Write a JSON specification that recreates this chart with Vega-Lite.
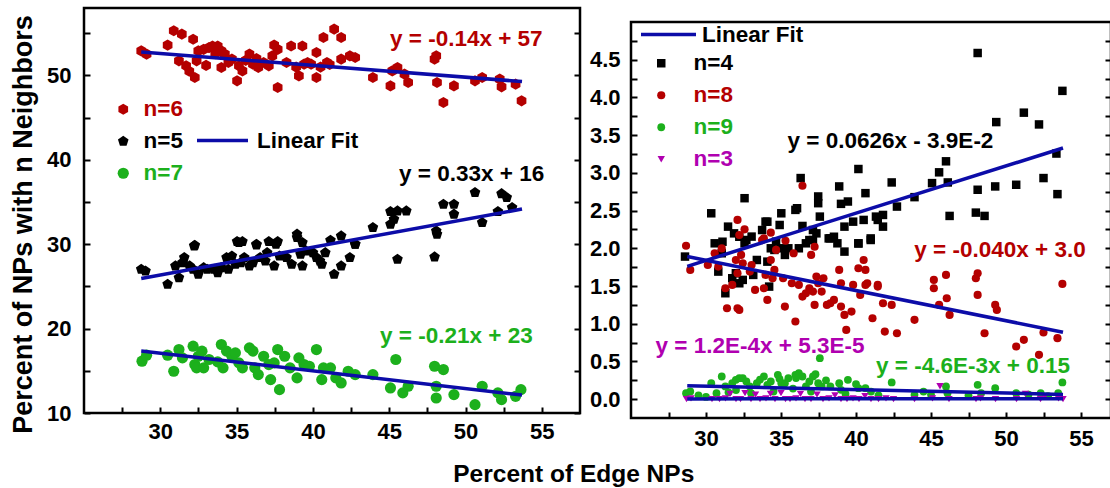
{
  "$schema": "https://vega.github.io/schema/vega-lite/v6.json",
  "background": "white",
  "padding": {"left": 8, "top": 5, "right": 0, "bottom": 0},
  "spacing": 5,
  "config": {
    "font": "Liberation Sans",
    "view": {"stroke": "#000", "strokeWidth": 2.5},
    "axis": {
      "grid": false, "domain": false, "offset": -6,
      "tickColor": "#000", "tickWidth": 2, "tickSize": 6, "ticks": true,
      "labelOverlap": false, "labelFlush": false, "labelBound": false,
      "labelFont": "Liberation Sans", "labelFontWeight": "bold", "labelFontSize": 22, "labelColor": "#000",
      "titleFont": "Liberation Sans", "titleFontWeight": "bold", "titleFontSize": 26, "titleColor": "#000"
    },
    "legend": {
      "labelFont": "Liberation Sans", "labelFontWeight": "bold", "labelFontSize": 22.5, "labelColor": "#000",
      "padding": 0, "rowPadding": 9, "title": null
    },
    "text": {"font": "Liberation Sans", "fontWeight": "bold", "fontSize": 22.5}
  },
  "title": {"text": "Percent of Edge NPs", "orient": "bottom", "anchor": "middle", "fontSize": 24.5, "fontWeight": "bold", "color": "#000", "offset": 12, "dx": 13},
  "resolve": {"scale": {"x": "independent", "y": "independent", "color": "independent", "shape": "independent", "size": "independent", "stroke": "independent"}},
  "datasets": {
    "left": [
      {"n":"n=6","x":28.75,"y":52.92},{"n":"n=6","x":29.1,"y":52.53},{"n":"n=6","x":30.48,"y":53.6},{"n":"n=6","x":30.88,"y":55.3},{"n":"n=6","x":31.41,"y":54.9},{"n":"n=6","x":31.22,"y":51.74},{"n":"n=6","x":31.69,"y":51.15},{"n":"n=6","x":32.15,"y":54.3},{"n":"n=6","x":32.26,"y":49.76},{"n":"n=6","x":32.38,"y":51.74},{"n":"n=6","x":32.49,"y":52.92},{"n":"n=6","x":32.84,"y":53.1},{"n":"n=6","x":33.19,"y":53.3},{"n":"n=6","x":33.42,"y":53.5},{"n":"n=6","x":33.76,"y":53.5},{"n":"n=6","x":34.0,"y":52.92},{"n":"n=6","x":34.23,"y":52.53},{"n":"n=6","x":34.0,"y":50.95},{"n":"n=6","x":34.46,"y":51.54},{"n":"n=6","x":34.69,"y":51.94},{"n":"n=6","x":35.03,"y":49.37},{"n":"n=6","x":35.15,"y":51.15},{"n":"n=6","x":35.38,"y":50.55},{"n":"n=6","x":35.84,"y":52.53},{"n":"n=6","x":36.07,"y":51.34},{"n":"n=6","x":36.42,"y":50.95},{"n":"n=6","x":36.77,"y":51.54},{"n":"n=6","x":37.11,"y":51.15},{"n":"n=6","x":37.34,"y":52.33},{"n":"n=6","x":37.46,"y":53.6},{"n":"n=6","x":37.69,"y":53.1},{"n":"n=6","x":37.69,"y":48.58},{"n":"n=6","x":38.27,"y":51.54},{"n":"n=6","x":38.57,"y":53.5},{"n":"n=6","x":39.08,"y":49.96},{"n":"n=6","x":39.31,"y":53.5},{"n":"n=6","x":39.42,"y":51.34},{"n":"n=6","x":39.65,"y":51.54},{"n":"n=6","x":39.88,"y":51.34},{"n":"n=6","x":40.23,"y":52.73},{"n":"n=6","x":40.23,"y":49.76},{"n":"n=6","x":40.69,"y":54.5},{"n":"n=6","x":40.92,"y":51.54},{"n":"n=6","x":41.39,"y":55.5},{"n":"n=6","x":41.85,"y":54.5},{"n":"n=6","x":41.85,"y":51.94},{"n":"n=6","x":42.42,"y":52.33},{"n":"n=6","x":42.77,"y":52.13},{"n":"n=6","x":43.93,"y":49.76},{"n":"n=6","x":45.08,"y":48.77},{"n":"n=6","x":45.2,"y":50.55},{"n":"n=6","x":45.54,"y":50.95},{"n":"n=6","x":46.0,"y":50.16},{"n":"n=6","x":46.24,"y":49.17},{"n":"n=6","x":47.97,"y":51.94},{"n":"n=6","x":48.08,"y":52.33},{"n":"n=6","x":48.13,"y":49.17},{"n":"n=6","x":48.55,"y":46.8},{"n":"n=6","x":49.24,"y":48.77},{"n":"n=6","x":50.62,"y":49.37},{"n":"n=6","x":51.09,"y":49.76},{"n":"n=6","x":52.24,"y":49.57},{"n":"n=6","x":52.36,"y":48.66},{"n":"n=6","x":53.28,"y":48.97},{"n":"n=6","x":53.67,"y":47.0},{"n":"n=6","x":31.9,"y":50.5},{"n":"n=6","x":33.0,"y":51.2},{"n":"n=6","x":35.6,"y":51.8},{"n":"n=6","x":36.3,"y":52.0},{"n":"n=6","x":38.9,"y":51.0},{"n":"n=6","x":40.5,"y":51.0},{"n":"n=6","x":41.1,"y":51.3},{"n":"n=6","x":33.6,"y":52.6},
      {"n":"n=5","x":32.26,"y":29.88},{"n":"n=5","x":35.03,"y":30.32},{"n":"n=5","x":35.38,"y":30.32},{"n":"n=5","x":36.3,"y":29.92},{"n":"n=5","x":37.11,"y":30.32},{"n":"n=5","x":37.69,"y":30.32},{"n":"n=5","x":38.96,"y":30.79},{"n":"n=5","x":39.31,"y":30.2},{"n":"n=5","x":41.15,"y":30.47},{"n":"n=5","x":41.85,"y":30.99},{"n":"n=5","x":42.77,"y":30.0},{"n":"n=5","x":43.93,"y":31.98},{"n":"n=5","x":45.08,"y":32.37},{"n":"n=5","x":45.08,"y":33.87},{"n":"n=5","x":45.31,"y":32.96},{"n":"n=5","x":45.54,"y":33.95},{"n":"n=5","x":46.12,"y":33.95},{"n":"n=5","x":48.08,"y":31.58},{"n":"n=5","x":48.13,"y":31.19},{"n":"n=5","x":48.55,"y":34.74},{"n":"n=5","x":49.24,"y":34.74},{"n":"n=5","x":49.24,"y":33.56},{"n":"n=5","x":50.62,"y":36.13},{"n":"n=5","x":51.09,"y":32.57},{"n":"n=5","x":52.12,"y":33.87},{"n":"n=5","x":52.36,"y":36.0},{"n":"n=5","x":52.7,"y":35.53},{"n":"n=5","x":53.05,"y":34.35},
      {"n":"n=5","x":28.75,"y":27.03},{"n":"n=5","x":29.03,"y":26.83},{"n":"n=5","x":30.48,"y":25.25},{"n":"n=5","x":30.99,"y":27.43},{"n":"n=5","x":31.22,"y":26.04},{"n":"n=5","x":31.45,"y":27.82},{"n":"n=5","x":31.57,"y":28.42},{"n":"n=5","x":31.92,"y":27.43},{"n":"n=5","x":32.15,"y":27.03},{"n":"n=5","x":32.22,"y":29.8},{"n":"n=5","x":32.49,"y":26.44},{"n":"n=5","x":32.84,"y":27.23},{"n":"n=5","x":33.07,"y":27.03},{"n":"n=5","x":33.53,"y":27.03},{"n":"n=5","x":33.76,"y":26.63},{"n":"n=5","x":34.0,"y":27.23},{"n":"n=5","x":34.34,"y":28.42},{"n":"n=5","x":34.46,"y":27.03},{"n":"n=5","x":34.69,"y":28.6},{"n":"n=5","x":34.92,"y":27.62},{"n":"n=5","x":35.15,"y":30.2},{"n":"n=5","x":35.27,"y":27.82},{"n":"n=5","x":35.5,"y":28.42},{"n":"n=5","x":35.84,"y":27.43},{"n":"n=5","x":36.07,"y":27.82},{"n":"n=5","x":36.3,"y":30.0},{"n":"n=5","x":36.54,"y":28.42},{"n":"n=5","x":36.88,"y":28.02},{"n":"n=5","x":37.0,"y":29.0},{"n":"n=5","x":37.46,"y":27.43},{"n":"n=5","x":37.58,"y":30.0},{"n":"n=5","x":37.81,"y":28.6},{"n":"n=5","x":38.27,"y":28.42},{"n":"n=5","x":38.61,"y":27.62},{"n":"n=5","x":38.96,"y":31.19},{"n":"n=5","x":39.19,"y":28.81},{"n":"n=5","x":39.31,"y":27.43},{"n":"n=5","x":39.54,"y":29.21},{"n":"n=5","x":40.0,"y":29.0},{"n":"n=5","x":40.23,"y":28.42},{"n":"n=5","x":40.46,"y":28.02},{"n":"n=5","x":40.58,"y":27.62},{"n":"n=5","x":40.81,"y":29.0},{"n":"n=5","x":41.39,"y":26.44},{"n":"n=5","x":41.85,"y":27.43},{"n":"n=5","x":42.42,"y":28.42},{"n":"n=5","x":42.77,"y":30.0},{"n":"n=5","x":45.54,"y":28.22},{"n":"n=5","x":47.97,"y":28.5},
      {"n":"n=7","x":28.8,"y":16.14},{"n":"n=7","x":29.1,"y":16.85},{"n":"n=7","x":30.48,"y":16.85},{"n":"n=7","x":30.88,"y":14.95},{"n":"n=7","x":31.22,"y":17.52},{"n":"n=7","x":31.45,"y":16.53},{"n":"n=7","x":32.15,"y":17.92},{"n":"n=7","x":32.26,"y":15.74},{"n":"n=7","x":32.38,"y":15.35},{"n":"n=7","x":32.49,"y":16.73},{"n":"n=7","x":32.73,"y":17.33},{"n":"n=7","x":32.84,"y":15.35},{"n":"n=7","x":33.19,"y":16.34},{"n":"n=7","x":33.76,"y":16.06},{"n":"n=7","x":34.0,"y":18.12},{"n":"n=7","x":34.11,"y":15.35},{"n":"n=7","x":34.34,"y":17.33},{"n":"n=7","x":34.69,"y":16.73},{"n":"n=7","x":34.92,"y":17.13},{"n":"n=7","x":35.15,"y":15.94},{"n":"n=7","x":35.38,"y":15.35},{"n":"n=7","x":35.84,"y":17.72},{"n":"n=7","x":36.07,"y":17.33},{"n":"n=7","x":36.19,"y":15.35},{"n":"n=7","x":36.42,"y":14.55},{"n":"n=7","x":36.77,"y":16.73},{"n":"n=7","x":37.11,"y":15.74},{"n":"n=7","x":37.23,"y":13.96},{"n":"n=7","x":37.46,"y":15.94},{"n":"n=7","x":37.69,"y":17.52},{"n":"n=7","x":37.81,"y":12.77},{"n":"n=7","x":38.15,"y":16.73},{"n":"n=7","x":38.5,"y":15.35},{"n":"n=7","x":38.96,"y":14.16},{"n":"n=7","x":39.08,"y":16.53},{"n":"n=7","x":39.42,"y":15.74},{"n":"n=7","x":39.77,"y":15.54},{"n":"n=7","x":40.23,"y":17.52},{"n":"n=7","x":40.58,"y":13.96},{"n":"n=7","x":40.69,"y":15.35},{"n":"n=7","x":41.15,"y":15.35},{"n":"n=7","x":41.5,"y":14.16},{"n":"n=7","x":41.85,"y":13.56},{"n":"n=7","x":42.31,"y":14.95},{"n":"n=7","x":42.77,"y":14.55},{"n":"n=7","x":43.93,"y":14.55},{"n":"n=7","x":45.08,"y":12.97},{"n":"n=7","x":45.43,"y":16.34},{"n":"n=7","x":45.89,"y":12.38},{"n":"n=7","x":46.24,"y":13.17},{"n":"n=7","x":47.97,"y":15.54},{"n":"n=7","x":48.08,"y":13.17},{"n":"n=7","x":48.08,"y":11.78},{"n":"n=7","x":48.55,"y":15.15},{"n":"n=7","x":49.24,"y":12.18},{"n":"n=7","x":50.62,"y":10.99},{"n":"n=7","x":51.09,"y":13.17},{"n":"n=7","x":52.12,"y":12.38},{"n":"n=7","x":52.36,"y":11.58},{"n":"n=7","x":53.28,"y":11.98},{"n":"n=7","x":53.63,"y":12.77}
    ],
    "leftFit": [
      {"n":"n=6","x":28.75,"y":52.775},{"n":"n=6","x":53.7,"y":49.282},
      {"n":"n=5","x":28.75,"y":25.94},{"n":"n=5","x":53.7,"y":34.17},
      {"n":"n=7","x":28.75,"y":17.36},{"n":"n=7","x":53.7,"y":12.12}
    ],
    "right": [
      {"n":"n=4","x":30.35,"y":2.464},{"n":"n=4","x":31.1,"y":2.087},{"n":"n=4","x":31.47,"y":2.287},{"n":"n=4","x":31.87,"y":2.198},{"n":"n=4","x":32.22,"y":2.153},{"n":"n=4","x":32.57,"y":2.664},{"n":"n=4","x":33.74,"y":2.242},{"n":"n=4","x":33.97,"y":2.353},{"n":"n=4","x":34.09,"y":2.353},{"n":"n=4","x":34.91,"y":2.309},{"n":"n=4","x":35.02,"y":2.464},{"n":"n=4","x":35.96,"y":2.509},{"n":"n=4","x":36.07,"y":2.531},{"n":"n=4","x":36.31,"y":2.931},{"n":"n=4","x":36.43,"y":2.296},{"n":"n=4","x":36.89,"y":2.109},{"n":"n=4","x":37.13,"y":2.242},{"n":"n=4","x":37.36,"y":2.198},{"n":"n=4","x":37.48,"y":2.687},{"n":"n=4","x":37.48,"y":2.598},{"n":"n=4","x":37.59,"y":2.42},{"n":"n=4","x":38.18,"y":2.131},{"n":"n=4","x":38.53,"y":2.153},{"n":"n=4","x":38.88,"y":2.82},{"n":"n=4","x":39.0,"y":2.589},{"n":"n=4","x":39.23,"y":2.287},{"n":"n=4","x":39.46,"y":2.62},{"n":"n=4","x":39.81,"y":2.353},{"n":"n=4","x":40.16,"y":2.064},{"n":"n=4","x":40.16,"y":3.051},{"n":"n=4","x":40.51,"y":2.376},{"n":"n=4","x":40.63,"y":2.731},{"n":"n=4","x":40.98,"y":2.131},{"n":"n=4","x":41.33,"y":2.42},{"n":"n=4","x":41.45,"y":2.376},{"n":"n=4","x":41.8,"y":2.287},{"n":"n=4","x":41.8,"y":2.442},{"n":"n=4","x":42.38,"y":2.873},{"n":"n=4","x":42.73,"y":2.553},{"n":"n=4","x":43.9,"y":2.678},{"n":"n=4","x":45.07,"y":2.864},{"n":"n=4","x":45.54,"y":3.007},{"n":"n=4","x":46.0,"y":3.153},{"n":"n=4","x":46.12,"y":2.873},{"n":"n=4","x":46.24,"y":2.429},{"n":"n=4","x":47.99,"y":2.473},{"n":"n=4","x":48.11,"y":2.776},{"n":"n=4","x":48.11,"y":4.589},{"n":"n=4","x":48.57,"y":2.429},{"n":"n=4","x":49.28,"y":2.82},{"n":"n=4","x":49.35,"y":3.673},{"n":"n=4","x":50.68,"y":2.842},{"n":"n=4","x":51.19,"y":3.798},{"n":"n=4","x":52.2,"y":3.642},{"n":"n=4","x":52.5,"y":2.931},{"n":"n=4","x":53.36,"y":3.256},{"n":"n=4","x":53.43,"y":2.718},{"n":"n=4","x":53.76,"y":4.087},
      {"n":"n=4","x":28.6,"y":1.89},{"n":"n=4","x":30.58,"y":2.066},{"n":"n=4","x":30.82,"y":1.691},{"n":"n=4","x":31.05,"y":1.934},{"n":"n=4","x":31.29,"y":1.404},{"n":"n=4","x":31.75,"y":1.603},{"n":"n=4","x":31.99,"y":1.669},{"n":"n=4","x":32.22,"y":1.536},{"n":"n=4","x":32.45,"y":1.581},{"n":"n=4","x":32.57,"y":2.066},{"n":"n=4","x":32.69,"y":2.11},{"n":"n=4","x":33.04,"y":2.155},{"n":"n=4","x":33.15,"y":1.647},{"n":"n=4","x":33.39,"y":1.845},{"n":"n=4","x":34.09,"y":1.823},{"n":"n=4","x":34.21,"y":1.492},{"n":"n=4","x":34.32,"y":2.0},{"n":"n=4","x":34.56,"y":1.978},{"n":"n=4","x":34.67,"y":2.088},{"n":"n=4","x":35.02,"y":2.0},{"n":"n=4","x":35.26,"y":1.912},{"n":"n=4","x":35.49,"y":2.0},{"n":"n=4","x":36.19,"y":2.0},{"n":"n=4","x":36.66,"y":2.066},{"n":"n=4","x":37.13,"y":2.11},{"n":"n=4","x":38.29,"y":2.132},{"n":"n=4","x":38.76,"y":2.066},{"n":"n=4","x":39.23,"y":1.956},{"n":"n=4","x":40.16,"y":2.066},{"n":"n=4","x":40.98,"y":2.11},
      {"n":"n=8","x":28.67,"y":2.033},{"n":"n=8","x":31.05,"y":1.998},{"n":"n=8","x":32.1,"y":2.376},{"n":"n=8","x":32.22,"y":2.176},{"n":"n=8","x":32.57,"y":2.251},{"n":"n=8","x":33.74,"y":2.109},{"n":"n=8","x":33.86,"y":2.131},{"n":"n=8","x":34.32,"y":2.207},{"n":"n=8","x":35.3,"y":2.1},{"n":"n=8","x":36.43,"y":2.829},{"n":"n=8","x":37.24,"y":2.02},
      {"n":"n=8","x":28.95,"y":1.713},{"n":"n=8","x":30.12,"y":1.779},{"n":"n=8","x":30.58,"y":1.934},{"n":"n=8","x":30.82,"y":1.757},{"n":"n=8","x":31.29,"y":1.47},{"n":"n=8","x":31.4,"y":1.205},{"n":"n=8","x":31.75,"y":1.514},{"n":"n=8","x":31.99,"y":1.845},{"n":"n=8","x":32.1,"y":1.669},{"n":"n=8","x":32.1,"y":1.205},{"n":"n=8","x":32.22,"y":1.183},{"n":"n=8","x":32.34,"y":1.912},{"n":"n=8","x":32.45,"y":1.801},{"n":"n=8","x":32.92,"y":1.691},{"n":"n=8","x":33.04,"y":1.779},{"n":"n=8","x":33.27,"y":1.448},{"n":"n=8","x":33.86,"y":1.47},{"n":"n=8","x":33.97,"y":1.647},{"n":"n=8","x":34.09,"y":1.316},{"n":"n=8","x":34.32,"y":1.845},{"n":"n=8","x":34.44,"y":1.603},{"n":"n=8","x":34.56,"y":1.713},{"n":"n=8","x":34.67,"y":1.978},{"n":"n=8","x":35.14,"y":1.603},{"n":"n=8","x":35.26,"y":1.227},{"n":"n=8","x":35.72,"y":1.536},{"n":"n=8","x":35.84,"y":1.934},{"n":"n=8","x":35.96,"y":1.029},{"n":"n=8","x":36.19,"y":1.514},{"n":"n=8","x":36.43,"y":1.36},{"n":"n=8","x":36.66,"y":1.404},{"n":"n=8","x":36.89,"y":1.47},{"n":"n=8","x":37.01,"y":1.912},{"n":"n=8","x":37.13,"y":1.426},{"n":"n=8","x":37.24,"y":1.249},{"n":"n=8","x":37.36,"y":1.625},{"n":"n=8","x":37.48,"y":1.536},{"n":"n=8","x":37.71,"y":1.426},{"n":"n=8","x":37.83,"y":1.603},{"n":"n=8","x":38.06,"y":1.249},{"n":"n=8","x":38.29,"y":1.272},{"n":"n=8","x":38.53,"y":1.316},{"n":"n=8","x":38.88,"y":1.713},{"n":"n=8","x":39.0,"y":1.536},{"n":"n=8","x":39.0,"y":1.227},{"n":"n=8","x":39.23,"y":1.117},{"n":"n=8","x":39.35,"y":0.918},{"n":"n=8","x":39.7,"y":1.161},{"n":"n=8","x":39.81,"y":1.514},{"n":"n=8","x":40.16,"y":1.735},{"n":"n=8","x":40.28,"y":1.382},{"n":"n=8","x":40.51,"y":1.845},{"n":"n=8","x":40.63,"y":1.713},{"n":"n=8","x":40.63,"y":1.514},{"n":"n=8","x":40.75,"y":1.536},{"n":"n=8","x":41.1,"y":1.073},{"n":"n=8","x":41.45,"y":1.514},{"n":"n=8","x":41.45,"y":1.492},{"n":"n=8","x":41.8,"y":1.272},{"n":"n=8","x":41.92,"y":0.896},{"n":"n=8","x":42.38,"y":1.249},{"n":"n=8","x":42.73,"y":0.874},{"n":"n=8","x":43.9,"y":1.051},{"n":"n=8","x":45.19,"y":1.47},{"n":"n=8","x":45.19,"y":1.581},{"n":"n=8","x":45.54,"y":1.249},{"n":"n=8","x":46.0,"y":1.647},{"n":"n=8","x":46.05,"y":1.338},{"n":"n=8","x":46.24,"y":1.117},{"n":"n=8","x":47.99,"y":1.603},{"n":"n=8","x":48.11,"y":1.669},{"n":"n=8","x":48.11,"y":1.382},{"n":"n=8","x":48.57,"y":0.874},{"n":"n=8","x":49.28,"y":1.249},{"n":"n=8","x":49.39,"y":1.183},{"n":"n=8","x":50.68,"y":0.698},{"n":"n=8","x":51.19,"y":0.786},{"n":"n=8","x":52.2,"y":0.587},{"n":"n=8","x":52.5,"y":0.883},{"n":"n=8","x":53.43,"y":0.808},{"n":"n=8","x":53.76,"y":1.528},
      {"n":"n=9","x":28.67,"y":0.079},{"n":"n=9","x":28.95,"y":0.102},{"n":"n=9","x":30.35,"y":0.212},{"n":"n=9","x":30.7,"y":0.079},{"n":"n=9","x":31.05,"y":0.3},{"n":"n=9","x":31.29,"y":0.168},{"n":"n=9","x":31.75,"y":0.212},{"n":"n=9","x":31.99,"y":0.256},{"n":"n=9","x":32.22,"y":0.278},{"n":"n=9","x":32.45,"y":0.278},{"n":"n=9","x":32.69,"y":0.234},{"n":"n=9","x":32.92,"y":0.168},{"n":"n=9","x":33.39,"y":0.212},{"n":"n=9","x":33.86,"y":0.3},{"n":"n=9","x":34.09,"y":0.19},{"n":"n=9","x":34.32,"y":0.234},{"n":"n=9","x":34.79,"y":0.322},{"n":"n=9","x":35.02,"y":0.212},{"n":"n=9","x":35.26,"y":0.212},{"n":"n=9","x":35.49,"y":0.278},{"n":"n=9","x":35.96,"y":0.322},{"n":"n=9","x":36.19,"y":0.344},{"n":"n=9","x":36.43,"y":0.3},{"n":"n=9","x":36.66,"y":0.168},{"n":"n=9","x":36.89,"y":0.234},{"n":"n=9","x":37.13,"y":0.3},{"n":"n=9","x":37.48,"y":0.212},{"n":"n=9","x":37.59,"y":0.543},{"n":"n=9","x":37.71,"y":0.168},{"n":"n=9","x":38.29,"y":0.168},{"n":"n=9","x":38.88,"y":0.212},{"n":"n=9","x":39.0,"y":0.124},{"n":"n=9","x":39.46,"y":0.256},{"n":"n=9","x":40.16,"y":0.146},{"n":"n=9","x":40.63,"y":0.146},{"n":"n=9","x":42.38,"y":0.221},{"n":"n=9","x":43.9,"y":0.057},{"n":"n=9","x":46.0,"y":0.168},{"n":"n=9","x":48.11,"y":0.19},{"n":"n=9","x":48.34,"y":0.079},{"n":"n=9","x":49.28,"y":0.146},{"n":"n=9","x":50.68,"y":0.079},{"n":"n=9","x":52.31,"y":0.079},{"n":"n=9","x":53.48,"y":0.079},{"n":"n=9","x":53.76,"y":0.221},{"n":"n=9","x":46.1,"y":0.079},{"n":"n=9","x":29.5,"y":0.05},{"n":"n=9","x":30.0,"y":0.03},{"n":"n=9","x":31.5,"y":0.09},{"n":"n=9","x":32.0,"y":0.12},{"n":"n=9","x":33.0,"y":0.08},{"n":"n=9","x":33.6,"y":0.26},{"n":"n=9","x":34.5,"y":0.1},{"n":"n=9","x":35.8,"y":0.14},{"n":"n=9","x":36.0,"y":0.28},{"n":"n=9","x":37.0,"y":0.1},{"n":"n=9","x":38.0,"y":0.25},{"n":"n=9","x":39.3,"y":0.07},{"n":"n=9","x":40.0,"y":0.2},{"n":"n=9","x":41.0,"y":0.1},{"n":"n=9","x":41.5,"y":0.05},{"n":"n=9","x":44.5,"y":0.1},{"n":"n=9","x":45.0,"y":0.06},{"n":"n=9","x":47.5,"y":0.05},{"n":"n=9","x":51.5,"y":0.06},{"n":"n=9","x":52.8,"y":0.04},{"n":"n=9","x":37.3,"y":0.33},{"n":"n=9","x":34.9,"y":0.27},
      {"n":"n=3","x":28.7,"y":0.0},{"n":"n=3","x":29.0,"y":0.01},{"n":"n=3","x":30.4,"y":0.0},{"n":"n=3","x":30.9,"y":0.0},{"n":"n=3","x":31.3,"y":0.01},{"n":"n=3","x":31.6,"y":0.07},{"n":"n=3","x":32.0,"y":0.0},{"n":"n=3","x":32.3,"y":0.0},{"n":"n=3","x":32.6,"y":0.08},{"n":"n=3","x":33.0,"y":0.0},{"n":"n=3","x":33.3,"y":0.06},{"n":"n=3","x":33.6,"y":0.0},{"n":"n=3","x":34.0,"y":0.01},{"n":"n=3","x":34.3,"y":0.07},{"n":"n=3","x":34.6,"y":0.0},{"n":"n=3","x":35.0,"y":0.08},{"n":"n=3","x":35.3,"y":0.0},{"n":"n=3","x":35.6,"y":0.0},{"n":"n=3","x":36.0,"y":0.01},{"n":"n=3","x":36.3,"y":0.07},{"n":"n=3","x":36.6,"y":0.0},{"n":"n=3","x":37.0,"y":0.0},{"n":"n=3","x":37.4,"y":0.06},{"n":"n=3","x":37.8,"y":0.0},{"n":"n=3","x":38.2,"y":0.01},{"n":"n=3","x":38.6,"y":0.05},{"n":"n=3","x":39.0,"y":0.0},{"n":"n=3","x":39.4,"y":0.0},{"n":"n=3","x":39.8,"y":0.01},{"n":"n=3","x":40.2,"y":0.0},{"n":"n=3","x":40.6,"y":0.04},{"n":"n=3","x":41.0,"y":0.0},{"n":"n=3","x":41.5,"y":0.0},{"n":"n=3","x":42.0,"y":0.01},{"n":"n=3","x":42.5,"y":0.0},{"n":"n=3","x":43.9,"y":0.0},{"n":"n=3","x":45.1,"y":0.01},{"n":"n=3","x":45.6,"y":0.17},{"n":"n=3","x":46.2,"y":0.0},{"n":"n=3","x":48.0,"y":0.0},{"n":"n=3","x":48.3,"y":0.01},{"n":"n=3","x":49.3,"y":0.0},{"n":"n=3","x":50.7,"y":0.0},{"n":"n=3","x":51.3,"y":0.07},{"n":"n=3","x":52.3,"y":0.0},{"n":"n=3","x":52.6,"y":0.04},{"n":"n=3","x":53.5,"y":0.01},{"n":"n=3","x":53.8,"y":0.0}
    ],
    "rightFit": [
      {"n":"n=4","x":28.75,"y":1.761},{"n":"n=4","x":53.8,"y":3.329},
      {"n":"n=8","x":28.75,"y":1.89},{"n":"n=8","x":53.8,"y":0.888},
      {"n":"n=9","x":28.75,"y":0.178},{"n":"n=9","x":53.8,"y":0.063},
      {"n":"n=3","x":28.75,"y":0.0035},{"n":"n=3","x":53.8,"y":0.0065}
    ]
  },
  "hconcat": [
    {
      "width": 496,
      "height": 405,
      "resolve": {"axis": {"y": "independent"}},
      "layer": [
        {
          "data": {"name": "left"},
          "mark": {"type": "point", "filled": true, "opacity": 1},
          "encoding": {
            "x": {"field": "x", "type": "quantitative",
              "scale": {"domain": [25, 57.5], "nice": false, "zero": false},
              "axis": {"title": null, "values": [27.5,30,32.5,35,37.5,40,42.5,45,47.5,50,52.5,55],
                "labelExpr": "datum.value % 5 === 0 ? datum.label : ''", "labelPadding": 8}},
            "y": {"field": "y", "type": "quantitative",
              "scale": {"domain": [10, 58], "nice": false, "zero": false},
              "axis": {"title": "Percent of NPs with n Neighbors", "values": [10,15,20,25,30,35,40,45,50,55],
                "labelExpr": "datum.value % 10 === 0 ? datum.label : ''",
                "labelPadding": 13, "titlePadding": 9, "titleFontSize": 27, "titleY": 216}},
            "color": {"field": "n", "type": "nominal",
              "scale": {"domain": ["n=6","n=5","n=7"], "range": ["#b40000","#000000","#1cb01c"]},
              "legend": {"orient": "none", "legendX": 28, "legendY": 90, "symbolSize": 121, "labelOffset": 9,
                "encoding": {"labels": {"fill": {"condition": [{"test": "datum.value === 'n=6'", "value": "#b40000"}, {"test": "datum.value === 'n=7'", "value": "#1cb01c"}], "value": "#000000"}}}}},
            "shape": {"field": "n", "type": "nominal",
              "scale": {"domain": ["n=6","n=5","n=7"], "range": ["M0,-1L0.866,-0.5L0.866,0.5L0,1L-0.866,0.5L-0.866,-0.5Z","M0,-1L0.951,-0.309L0.588,0.809L-0.588,0.809L-0.951,-0.309Z","circle"]},
              "legend": {"orient": "none", "legendX": 28, "legendY": 90, "symbolSize": 121, "labelOffset": 9,
                "encoding": {"labels": {"fill": {"condition": [{"test": "datum.value === 'n=6'", "value": "#b40000"}, {"test": "datum.value === 'n=7'", "value": "#1cb01c"}], "value": "#000000"}}}}},
            "size": {"field": "n", "type": "nominal", "scale": {"domain": ["n=6","n=5","n=7"], "range": [125, 125, 100]}, "legend": null}
          }
        },
        {
          "data": {"name": "leftFit"},
          "mark": {"type": "line", "strokeWidth": 3.5},
          "encoding": {
            "x": {"field": "x", "type": "quantitative"},
            "y": {"field": "y", "type": "quantitative",
              "axis": {"orient": "right", "title": null, "labels": false, "values": [10,15,20,25,30,35,40,45,50,55]}},
            "detail": {"field": "n"},
            "stroke": {"datum": "Linear Fit", "type": "nominal", "scale": {"range": ["#0c0ca8"]},
              "legend": {"orient": "none", "legendX": 111, "legendY": 105, "symbolType": "stroke", "symbolSize": 2601, "symbolStrokeWidth": 3.5, "labelOffset": 7}}
          }
        },
        {"data": {"values": [{}]}, "mark": {"type": "text", "text": "y = -0.14x + 57", "color": "#b40000"},
         "encoding": {"x": {"datum": 50.05}, "y": {"datum": 54.3, "axis": null}}},
        {"data": {"values": [{}]}, "mark": {"type": "text", "text": "y = 0.33x + 16", "color": "#000000"},
         "encoding": {"x": {"datum": 50.4}, "y": {"datum": 38.3, "axis": null}}},
        {"data": {"values": [{}]}, "mark": {"type": "text", "text": "y = -0.21x + 23", "color": "#1cb01c"},
         "encoding": {"x": {"datum": 49.4}, "y": {"datum": 19.1, "axis": null}}}
      ]
    },
    {
      "spacing": 11,
      "vconcat": [
        {"width": 480, "height": 1, "data": {"values": []}, "mark": "point", "view": {"stroke": null}},
        {
          "width": 480,
          "height": 396,
          "resolve": {"axis": {"y": "independent"}},
          "layer": [
            {
              "data": {"name": "right"},
              "mark": {"type": "point", "filled": true, "opacity": 1},
              "encoding": {
                "x": {"field": "x", "type": "quantitative",
                  "scale": {"domain": [25, 57], "nice": false, "zero": false},
                  "axis": {"title": null, "values": [27.5,30,32.5,35,37.5,40,42.5,45,47.5,50,52.5,55],
                    "labelExpr": "datum.value % 5 === 0 ? datum.label : ''", "labelPadding": 10.5}},
                "y": {"field": "y", "type": "quantitative",
                  "scale": {"domain": [-0.25, 5.0], "nice": false, "zero": false},
                  "axis": {"title": null, "values": [0,0.25,0.5,0.75,1,1.25,1.5,1.75,2,2.25,2.5,2.75,3,3.25,3.5,3.75,4,4.25,4.5,4.75],
                    "labelExpr": "abs(datum.value * 2 - round(datum.value * 2)) < 0.001 ? format(datum.value, '.1f') : ''",
                    "labelPadding": 11}},
                "color": {"field": "n", "type": "nominal",
                  "scale": {"domain": ["n=4","n=8","n=9","n=3"], "range": ["#000000","#b40000","#1cb01c","#b000b0"]},
                  "legend": {"orient": "none", "legendX": 19, "legendY": 44, "symbolSize": 70, "labelOffset": 21,
                    "encoding": {"labels": {"fill": {"condition": [{"test": "datum.value === 'n=8'", "value": "#b40000"}, {"test": "datum.value === 'n=9'", "value": "#1cb01c"}, {"test": "datum.value === 'n=3'", "value": "#b000b0"}], "value": "#000000"}}}}},
                "shape": {"field": "n", "type": "nominal",
                  "scale": {"domain": ["n=4","n=8","n=9","n=3"], "range": ["square","circle","circle","triangle-down"]},
                  "legend": {"orient": "none", "legendX": 19, "legendY": 44, "symbolSize": 70, "labelOffset": 21,
                    "encoding": {"labels": {"fill": {"condition": [{"test": "datum.value === 'n=8'", "value": "#b40000"}, {"test": "datum.value === 'n=9'", "value": "#1cb01c"}, {"test": "datum.value === 'n=3'", "value": "#b000b0"}], "value": "#000000"}}}}},
                "size": {"field": "n", "type": "nominal", "scale": {"domain": ["n=4","n=8","n=9","n=3"], "range": [72, 55, 70, 80]}, "legend": null}
              }
            },
            {
              "data": {"name": "rightFit"},
              "mark": {"type": "line", "strokeWidth": 3.5},
              "encoding": {
                "x": {"field": "x", "type": "quantitative"},
                "y": {"field": "y", "type": "quantitative",
                  "axis": {"orient": "right", "title": null, "labels": false, "values": [0,0.25,0.5,0.75,1,1.25,1.5,1.75,2,2.25,2.5,2.75,3,3.25,3.5,3.75,4,4.25,4.5,4.75]}},
                "detail": {"field": "n"},
                "stroke": {"datum": "Linear Fit", "type": "nominal", "scale": {"range": ["#0c0ca8"]},
                  "legend": {"orient": "none", "legendX": 8, "legendY": -3, "symbolType": "stroke", "symbolSize": 3025, "symbolStrokeWidth": 3.5, "labelOffset": 4}}
              }
            },
            {"data": {"values": [{}]}, "mark": {"type": "text", "text": "y = 0.0626x - 3.9E-2", "color": "#000000"},
             "encoding": {"x": {"datum": 42.3}, "y": {"datum": 3.42, "axis": null}}},
            {"data": {"values": [{}]}, "mark": {"type": "text", "text": "y = -0.040x + 3.0", "color": "#b40000"},
             "encoding": {"x": {"datum": 49.6}, "y": {"datum": 1.98, "axis": null}}},
            {"data": {"values": [{}]}, "mark": {"type": "text", "text": "y = 1.2E-4x + 5.3E-5", "color": "#b000b0"},
             "encoding": {"x": {"datum": 33.6}, "y": {"datum": 0.698, "axis": null}}},
            {"data": {"values": [{}]}, "mark": {"type": "text", "text": "y = -4.6E-3x + 0.15", "color": "#1cb01c"},
             "encoding": {"x": {"datum": 47.8}, "y": {"datum": 0.433, "axis": null}}}
          ]
        }
      ]
    }
  ]
}
